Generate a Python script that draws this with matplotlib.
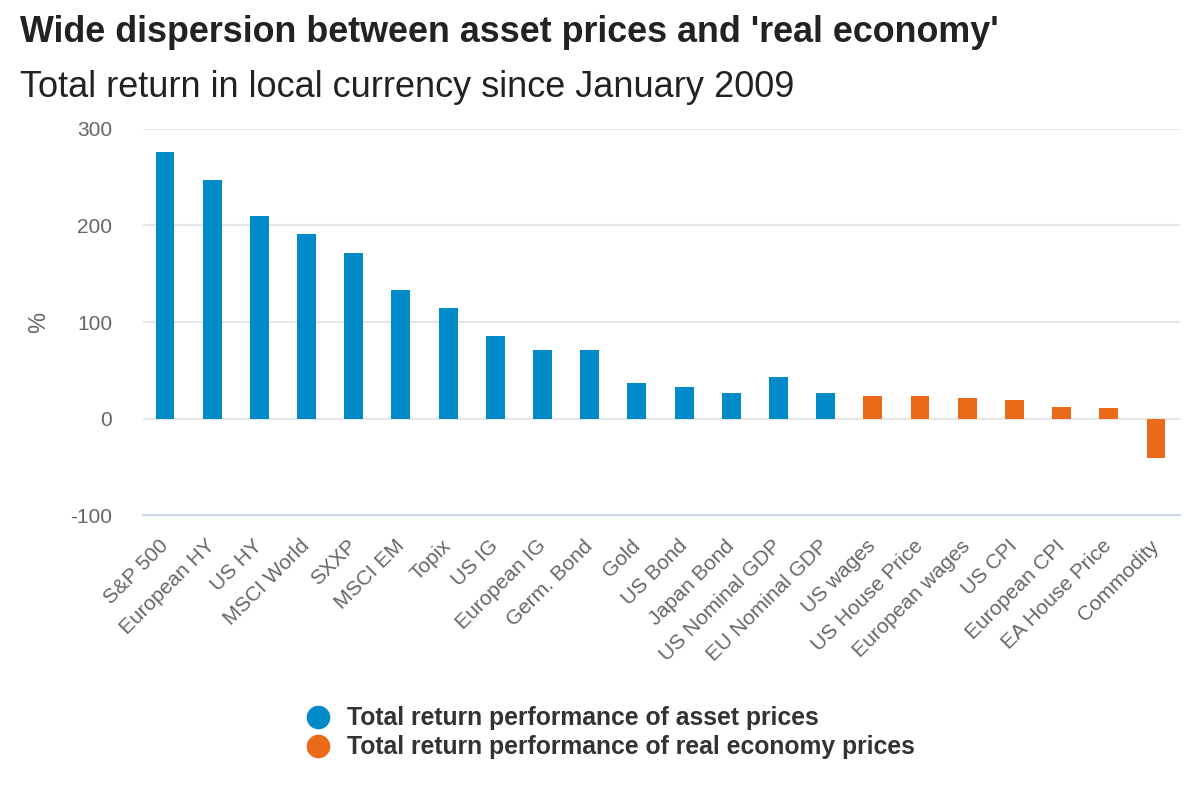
import numpy as np
import matplotlib.pyplot as plt
from matplotlib.lines import Line2D

plt.rcParams['font.family'] = ['Liberation Sans', 'DejaVu Sans']
plt.rcParams['axes.unicode_minus'] = False

# categories and values (% total return since Jan 2009)
categories = ["S&P 500", "European HY", "US HY", "MSCI World", "SXXP", "MSCI EM",
              "Topix", "US IG", "European IG", "Germ. Bond", "Gold", "US Bond",
              "Japan Bond", "US Nominal GDP", "EU Nominal GDP", "US wages",
              "US House Price", "European wages", "US CPI", "European CPI",
              "EA House Price", "Commodity"]
values = [276, 247, 210, 191, 171, 133, 115, 86, 71, 71, 37, 33,
          27, 43.5, 27, 23, 23, 21, 19, 12.5, 10.5, -41]
group = ["asset"] * 15 + ["real"] * 7

blue = "#008ACA"
orange = "#EA6A1A"
colors = [blue if g == "asset" else orange for g in group]

fig = plt.figure(figsize=(12, 8), dpi=100)
ax = fig.add_axes([0.119, 0.356, 0.864, 0.483])

x = np.arange(len(categories))
ax.bar(x, values, width=0.4, color=colors, zorder=3)

ax.set_ylim(-100, 300)
ax.set_xlim(-0.47, len(categories) - 0.5)
ax.set_yticks([-100, 0, 100, 200, 300])
ax.yaxis.grid(True, color="#e6e6e6", linewidth=1.5, zorder=0)
ax.set_axisbelow(True)
for s in ax.spines.values():
    s.set_visible(False)
ax.spines["bottom"].set_visible(True)
ax.spines["bottom"].set_color("#ccd6eb")
ax.spines["bottom"].set_linewidth(1.5)
ax.tick_params(axis="both", length=0, labelsize=15, labelcolor="#666666")
ax.tick_params(axis="y", pad=22)
ax.set_xticks(x)
ax.set_xticklabels(categories, rotation=45, ha="right", va="center",
                   rotation_mode="anchor")
ax.tick_params(axis="x", pad=20)
ax.set_ylabel("%", fontsize=17, color="#666666")
ax.yaxis.set_label_coords(-0.0897, 0.5)

fig.text(0.017, 0.948, "Wide dispersion between asset prices and 'real economy'",
         fontsize=25.8, fontweight="bold", color="#222222", va="baseline")
fig.text(0.017, 0.879, "Total return in local currency since January 2009",
         fontsize=26, color="#222222", va="baseline")

handles = [Line2D([], [], marker="o", linestyle="", markersize=16, color=blue),
           Line2D([], [], marker="o", linestyle="", markersize=16, color=orange)]
labels = ["Total return performance of asset prices",
          "Total return performance of real economy prices"]
leg = fig.legend(handles, labels, loc="center left", bbox_to_anchor=(0.226, 0.084),
                 frameon=False, handletextpad=0.15, labelspacing=0.2,
                 prop={"size": 17.8, "weight": "bold"})
for t in leg.get_texts():
    t.set_color("#333333")

fig.savefig("out.png", dpi=100)
